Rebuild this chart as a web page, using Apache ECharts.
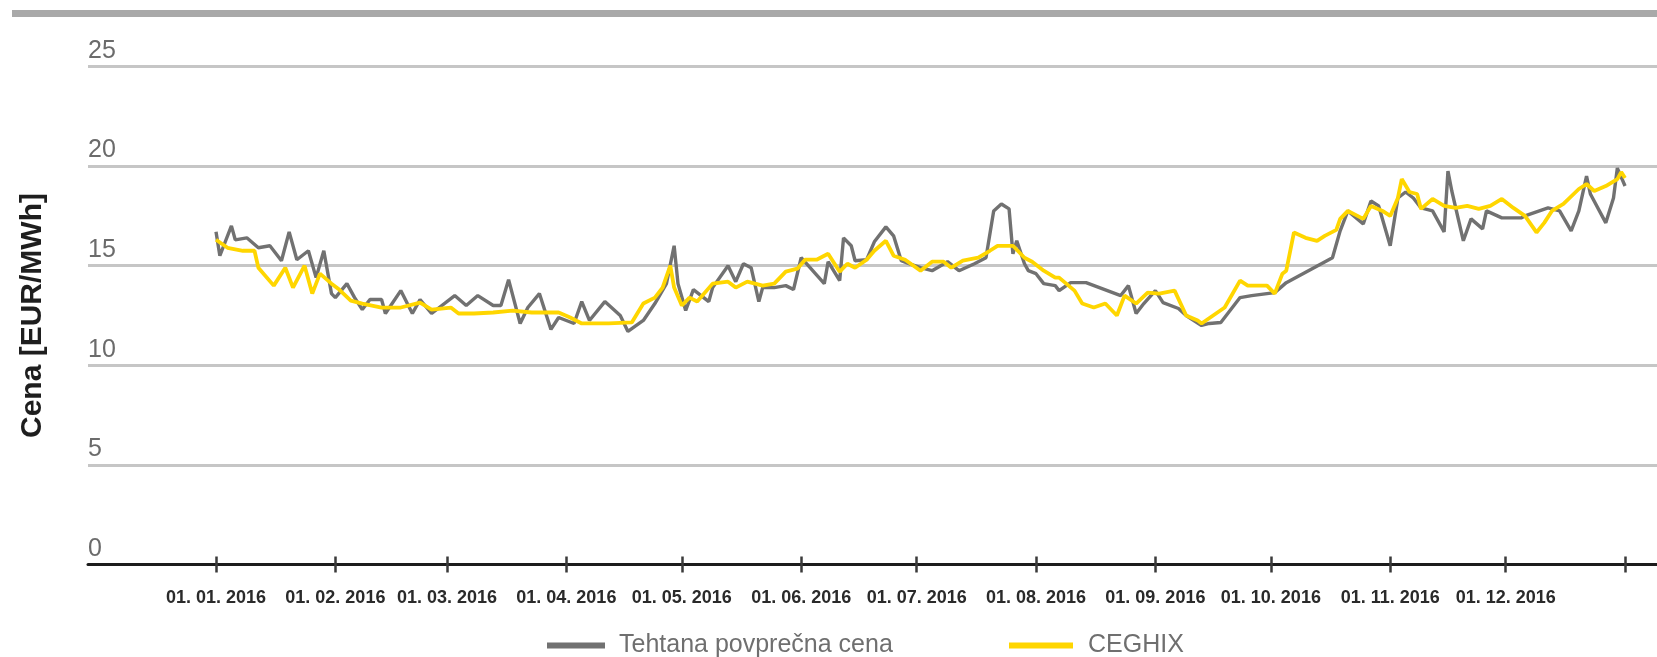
<!DOCTYPE html>
<html>
<head>
<meta charset="utf-8">
<script src="https://cdn.jsdelivr.net/npm/echarts@6/dist/echarts.min.js"></script>
<style>
  html, body { margin: 0; padding: 0; background: #fff; }
  #main { width: 1657px; height: 657px; }
</style>
</head>
<body>
<div id="main"></div>
<script>
// days counted from 01. 01. 2016
var monthStarts = [0, 31, 60, 91, 121, 152, 182, 213, 244, 274, 305, 335, 366]
var monthLabels = ['01. 01. 2016', '01. 02. 2016', '01. 03. 2016', '01. 04. 2016', '01. 05. 2016', '01. 06. 2016',
    '01. 07. 2016', '01. 08. 2016', '01. 09. 2016', '01. 10. 2016', '01. 11. 2016', '01. 12. 2016', '']
var yTicks = [0, 5, 10, 15, 20, 25]

// Tehtana povprečna cena
var tehtanaDays = [0, 1, 4, 5, 8, 11, 14, 17, 19, 21, 24, 26, 28, 30, 31, 34, 36, 38, 40, 43, 44, 48, 51, 53, 56,
    62, 65, 68, 72, 74, 76, 79, 81, 84, 87, 89, 93, 95, 97, 101, 105, 107, 111, 114, 117, 119, 120, 122, 124,
    128, 129, 133, 135, 137, 139, 141, 142, 145, 148, 150, 152, 155, 158, 159, 162, 163, 165, 166, 169, 171,
    174, 176, 178, 180, 183, 186, 190, 193, 197, 200, 202, 204, 206, 207, 208, 210, 211, 213, 215, 218, 219,
    222, 226, 235, 237, 239, 241, 244, 246, 250, 252, 256, 258, 261, 263, 266, 269, 275, 278, 290, 292, 294,
    298, 300, 302, 305, 307, 309, 311, 313, 316, 319, 320, 321, 324, 326, 329, 330, 334, 339, 340, 346, 349,
    352, 354, 356, 357, 361, 363, 364, 366]
var tehtanaValues = [16.7, 15.5, 17.0, 16.3, 16.4, 15.9, 16.0, 15.25, 16.7, 15.3, 15.75, 14.4, 15.75, 13.6, 13.4,
    14.1, 13.4, 12.8, 13.3, 13.3, 12.6, 13.75, 12.6, 13.3, 12.6,
    13.5, 13.0, 13.5, 13.0, 13.0, 14.3, 12.1, 12.9, 13.6, 11.8, 12.4, 12.1, 13.2, 12.25, 13.2, 12.5, 11.7, 12.25,
    13.1, 14.1, 16.0, 14.1, 12.75, 13.8,
    13.2, 13.9, 15.0, 14.2, 15.1, 14.9, 13.2, 13.9, 13.9, 14.0, 13.8, 15.4, 14.75, 14.1, 15.2, 14.25, 16.4, 16.0,
    15.25, 15.3, 16.2,
    16.95, 16.5, 15.25, 15.1, 14.9, 14.75, 15.2, 14.75, 15.1, 15.4, 17.75, 18.1, 17.85, 15.6, 16.25, 15.1, 14.75,
    14.6, 14.1, 14.0, 13.75,
    14.15, 14.15, 13.5, 14.0, 12.6, 13.1, 13.75, 13.15, 12.85, 12.5, 12.0, 12.1, 12.15, 12.65, 13.4, 13.5, 13.65,
    14.15, 15.4, 16.75, 17.75,
    17.1, 18.25, 18.0, 16.0, 18.4, 18.7, 18.4, 17.9, 17.75, 16.7, 19.75, 18.75, 16.25, 17.35, 16.85, 17.75, 17.4,
    17.4, 17.5, 17.9, 17.75,
    16.75, 17.75, 19.5, 18.6, 17.15, 18.4, 19.9, 19.0]

// CEGHIX
var ceghixDays = [0, 3, 7, 10, 11, 15, 18, 20, 23, 25, 27, 30, 32, 35, 38, 43, 48, 53, 56, 61, 63, 67, 72, 77, 82,
    89, 92, 95, 102, 108, 111, 114, 116, 118, 119, 121, 123, 125, 129, 133, 135, 138, 142, 145, 148, 151, 153,
    156, 159, 162, 164, 166, 169, 171, 174, 176, 179, 183, 186, 189, 191, 194, 198, 201, 203, 207, 210, 212, 215,
    218, 219, 223, 225, 228, 231, 234, 236, 239, 242, 245, 249, 252, 255, 256, 259, 262, 266, 268, 273, 275, 277,
    278, 280, 283, 286, 288, 291, 292, 294, 298, 300, 303, 305, 307, 308, 310, 312, 313, 316, 319, 322, 325, 328,
    331, 334, 337, 340, 343, 345, 347, 350, 354, 356, 358, 361, 364, 365, 366]
var ceghixValues = [16.3, 15.9, 15.75, 15.75, 14.9, 14.0, 14.9, 13.9, 15.0, 13.6, 14.6, 14.1, 13.8, 13.25, 13.1,
    12.9, 12.9, 13.15, 12.8, 12.9, 12.6, 12.6, 12.65, 12.75, 12.65,
    12.65, 12.4, 12.1, 12.1, 12.15, 13.1, 13.4, 13.9, 15.0, 13.9, 13.0, 13.4, 13.2, 14.1, 14.2, 13.9, 14.2, 14.0,
    14.1, 14.7, 14.85, 15.3,
    15.3, 15.6, 14.7, 15.1, 14.9, 15.3, 15.75, 16.25, 15.5, 15.3, 14.75, 15.2, 15.2, 14.9, 15.25, 15.4, 15.75,
    16.0, 16.0, 15.4, 15.2, 14.75,
    14.4, 14.4, 13.75, 13.1, 12.9, 13.1, 12.5, 13.5, 13.1, 13.65, 13.6, 13.75, 12.5, 12.25, 12.1, 12.5, 12.9,
    14.25, 14.0, 14.0, 13.6, 14.6,
    14.75, 16.67, 16.4, 16.25, 16.5, 16.8, 17.35, 17.75, 17.35, 18.0, 17.75, 17.5, 18.4, 19.35, 18.7, 18.6, 17.85,
    18.35, 18.0, 17.9, 18.0, 17.85,
    18.0, 18.35, 17.9, 17.5, 16.67, 17.15, 17.75, 18.1, 18.85, 19.1, 18.75, 19.0, 19.35, 19.7, 19.4]

const font = "'Liberation Sans', Arial, sans-serif"

function zip (xs, ys) {
    return xs.map((x, i) => [x, ys[i]])
}

const myChart = echarts.init(document.getElementById('main'))
const option = {
    animation: false,
    backgroundColor: '#fff',
    grid: {
        left: 88,
        right: 0,
        top: 66.5,
        bottom: 92.5
    },
    graphic: [{
        // grey bar on top
        type: 'rect',
        left: 12,
        top: 10,
        shape: { width: 1645, height: 7 },
        style: { fill: '#a9a9a9' }
    }],
    legend: [
        {
            left: 542,
            top: 628,
            icon: 'rect',
            itemWidth: 58,
            itemHeight: 6,
            data: ['Tehtana povprečna cena'],
            textStyle: { fontFamily: font, fontSize: 25, color: '#6f6f6f', padding: [0, 0, 0, 9] }
        },
        {
            left: 1004,
            top: 628,
            icon: 'rect',
            itemWidth: 64,
            itemHeight: 6,
            data: ['CEGHIX'],
            textStyle: { fontFamily: font, fontSize: 25, color: '#6f6f6f', padding: [0, 0, 0, 10] }
        }
    ],
    xAxis: [
        {
            type: 'value',
            min: -33.25,
            max: 374.3,
            axisLine: { show: true, lineStyle: { color: '#1c1c1c', width: 3 } },
            axisTick: {
                show: true,
                customValues: monthStarts,
                length: 8,
                lineStyle: { color: '#3a3a3a', width: 2.5 }
            },
            axisLabel: {
                customValues: monthStarts.slice(0, 12),
                hideOverlap: false,
                margin: 25,
                fontFamily: font,
                fontWeight: 'bold',
                fontSize: 18,
                color: '#2a2a2a',
                formatter: (v) => monthLabels[monthStarts.indexOf(v)]
            },
            splitLine: { show: false }
        },
        {
            // ticks crossing the axis line upwards
            type: 'value',
            position: 'bottom',
            min: -33.25,
            max: 374.3,
            axisLine: { show: false },
            axisTick: {
                show: true,
                inside: true,
                customValues: monthStarts,
                length: 8,
                lineStyle: { color: '#3a3a3a', width: 2.5 }
            },
            axisLabel: { show: false },
            splitLine: { show: false }
        }
    ],
    yAxis: {
        type: 'value',
        min: yTicks[0],
        max: yTicks[yTicks.length - 1],
        interval: 5,
        name: 'Cena [EUR/MWh]',
        nameLocation: 'middle',
        nameRotate: 90,
        nameGap: 40,
        nameTextStyle: { fontFamily: font, fontWeight: 'bold', fontSize: 30, color: '#1e1e1e' },
        axisLine: { show: false },
        axisTick: { show: false },
        axisLabel: {
            inside: true,
            margin: 0,
            verticalAlign: 'bottom',
            padding: [0, 0, 3, 0],
            fontFamily: font,
            fontSize: 25,
            color: '#6b6b6b'
        },
        splitLine: { lineStyle: { color: '#c6c6c6', width: 3 } }
    },
    series: [
        {
            name: 'Tehtana povprečna cena',
            type: 'line',
            showSymbol: false,
            color: '#717171',
            lineStyle: { width: 3.4, color: '#717171' },
            data: zip(tehtanaDays, tehtanaValues)
        },
        {
            name: 'CEGHIX',
            type: 'line',
            showSymbol: false,
            color: '#ffd600',
            lineStyle: { width: 3.8, color: '#ffd600' },
            data: zip(ceghixDays, ceghixValues)
        }
    ]
}
myChart.setOption(option)
</script>
</body>
</html>
